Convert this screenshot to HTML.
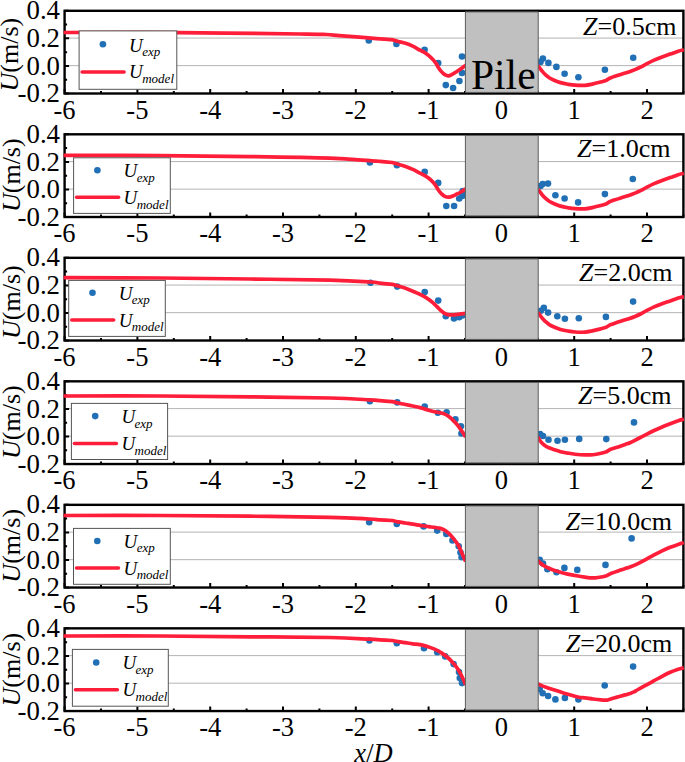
<!DOCTYPE html>
<html><head><meta charset="utf-8"><style>
html,body{margin:0;padding:0;background:#fff;overflow:hidden;}
svg{display:block;}
text{font-family:"Liberation Serif",serif;}
</style></head><body>
<svg width="685" height="762" viewBox="0 0 685 762">
<rect width="685" height="762" fill="#fff"/>
<g><line x1="64.6" y1="38.07" x2="683.4" y2="38.07" stroke="#b4b4b4" stroke-width="1"/>
<line x1="64.6" y1="65.63" x2="683.4" y2="65.63" stroke="#b4b4b4" stroke-width="1"/>
<circle cx="368.8" cy="40.4" r="3.3" fill="#2170b6"/>
<circle cx="396.4" cy="44.0" r="3.3" fill="#2170b6"/>
<circle cx="424.6" cy="49.8" r="3.3" fill="#2170b6"/>
<circle cx="438.2" cy="63.0" r="3.3" fill="#2170b6"/>
<circle cx="445.8" cy="85.1" r="3.3" fill="#2170b6"/>
<circle cx="453.1" cy="88.0" r="3.3" fill="#2170b6"/>
<circle cx="459.4" cy="81.0" r="3.3" fill="#2170b6"/>
<circle cx="462.0" cy="72.9" r="3.3" fill="#2170b6"/>
<circle cx="462.0" cy="56.5" r="3.3" fill="#2170b6"/>
<circle cx="540.5" cy="61.9" r="3.3" fill="#2170b6"/>
<circle cx="542.9" cy="58.6" r="3.3" fill="#2170b6"/>
<circle cx="548.4" cy="62.9" r="3.3" fill="#2170b6"/>
<circle cx="556.4" cy="66.9" r="3.3" fill="#2170b6"/>
<circle cx="564.6" cy="73.8" r="3.3" fill="#2170b6"/>
<circle cx="578.4" cy="77.3" r="3.3" fill="#2170b6"/>
<circle cx="604.9" cy="69.7" r="3.3" fill="#2170b6"/>
<circle cx="633.2" cy="57.7" r="3.3" fill="#2170b6"/>
<rect x="64.6" y="10.80" width="618.8" height="82.70" fill="none" stroke="#000" stroke-width="2.4"/>
<path d="M64.60,93.50v-4.5 M101.00,93.50v-2.5 M137.40,93.50v-4.5 M173.80,93.50v-2.5 M210.20,93.50v-4.5 M246.60,93.50v-2.5 M283.00,93.50v-4.5 M319.40,93.50v-2.5 M355.80,93.50v-4.5 M392.20,93.50v-2.5 M428.60,93.50v-4.5 M465.00,93.50v-2.5 M501.40,93.50v-4.5 M537.80,93.50v-2.5 M574.20,93.50v-4.5 M610.60,93.50v-2.5 M647.00,93.50v-4.5 M683.40,93.50v-2.5 M64.60,93.50h4.5 M64.60,79.72h2.5 M64.60,65.93h4.5 M64.60,52.15h2.5 M64.60,38.37h4.5 M64.60,24.58h2.5 M64.60,10.80h4.5" stroke="#000" stroke-width="2" fill="none"/>
<path d="M63.60,32.50 C82.50,32.52 137.60,32.35 177.00,32.60 C216.40,32.85 275.17,33.68 300.00,34.00 C324.83,34.32 319.43,34.23 326.00,34.50 C332.57,34.77 332.78,35.07 339.40,35.60 C346.02,36.13 358.93,37.15 365.70,37.70 C372.47,38.25 375.57,38.57 380.00,38.90 C384.43,39.23 390.25,39.57 392.30,39.70 C393.28,40.00 396.00,40.90 398.20,41.50 C400.40,42.10 403.07,42.52 405.50,43.30 C407.93,44.08 410.38,45.05 412.80,46.20 C415.22,47.35 418.07,49.17 420.00,50.20 C421.93,51.23 422.93,51.48 424.40,52.40 C425.87,53.32 427.35,54.48 428.80,55.70 C430.25,56.92 431.88,58.42 433.10,59.70 C434.32,60.98 435.25,62.15 436.10,63.40 C436.95,64.65 437.35,65.87 438.20,67.20 C439.05,68.53 440.10,70.15 441.20,71.40 C442.30,72.65 443.58,73.97 444.80,74.70 C446.02,75.43 447.28,75.87 448.50,75.80 C449.72,75.73 450.77,74.97 452.10,74.30 C453.43,73.63 455.03,72.72 456.50,71.80 C457.97,70.88 459.38,69.88 460.90,68.80 C462.42,67.72 464.82,65.88 465.60,65.30" fill="none" stroke="#ff1e3a" stroke-width="3.7" stroke-linejoin="round" stroke-linecap="butt"/>
<path d="M537.90,65.60 C538.27,66.08 539.37,67.53 540.10,68.50 C540.83,69.47 541.33,70.30 542.30,71.40 C543.27,72.50 544.68,74.00 545.90,75.10 C547.12,76.20 548.13,77.10 549.60,78.00 C551.07,78.90 552.88,79.73 554.70,80.50 C556.52,81.27 558.32,81.98 560.50,82.60 C562.68,83.22 565.37,83.77 567.80,84.20 C570.23,84.63 572.23,85.02 575.10,85.20 C577.97,85.38 582.13,85.48 585.00,85.30 C587.87,85.12 589.87,84.60 592.30,84.10 C594.73,83.60 597.28,82.92 599.60,82.30 C601.92,81.68 605.10,80.72 606.20,80.40 L609.8,78.2 C610.53,77.93 612.25,77.27 614.20,76.60 C616.15,75.93 619.07,74.98 621.50,74.20 C623.93,73.42 626.55,72.67 628.80,71.90 C631.05,71.13 632.97,70.43 635.00,69.60 C637.03,68.77 639.15,67.82 641.00,66.90 C642.85,65.98 643.92,65.23 646.10,64.10 C648.28,62.97 651.43,61.30 654.10,60.10 C656.77,58.90 659.42,57.90 662.10,56.90 C664.78,55.90 667.52,55.05 670.20,54.10 C672.88,53.15 675.93,51.92 678.20,51.20 C680.47,50.48 682.87,50.03 683.80,49.80" fill="none" stroke="#ff1e3a" stroke-width="3.7" stroke-linejoin="round" stroke-linecap="butt"/>
<rect x="465.4" y="11.9" width="72.8" height="80.5" fill="#c0c0c0" stroke="#5a5a5a" stroke-width="1"/>
<text x="60.0" y="19.4" font-size="26.8" text-anchor="end">0.4</text>
<text x="60.0" y="47.0" font-size="26.8" text-anchor="end">0.2</text>
<text x="60.0" y="74.5" font-size="26.8" text-anchor="end">0.0</text>
<text x="60.0" y="102.1" font-size="26.8" text-anchor="end">-0.2</text>
<text x="64.6" y="118.8" font-size="26.5" text-anchor="middle">-6</text>
<text x="137.4" y="118.8" font-size="26.5" text-anchor="middle">-5</text>
<text x="210.2" y="118.8" font-size="26.5" text-anchor="middle">-4</text>
<text x="283.0" y="118.8" font-size="26.5" text-anchor="middle">-3</text>
<text x="355.8" y="118.8" font-size="26.5" text-anchor="middle">-2</text>
<text x="428.6" y="118.8" font-size="26.5" text-anchor="middle">-1</text>
<text x="501.4" y="118.8" font-size="26.5" text-anchor="middle">0</text>
<text x="574.2" y="118.8" font-size="26.5" text-anchor="middle">1</text>
<text x="647.0" y="118.8" font-size="26.5" text-anchor="middle">2</text>
<rect x="79.1" y="30.9" width="97.7" height="58.4" fill="#fff" stroke="#555" stroke-width="1"/>
<circle cx="102.9" cy="44.2" r="3.3" fill="#2170b6"/>
<line x1="82.1" y1="72.0" x2="124.1" y2="72.0" stroke="#ff1e3a" stroke-width="3.5" stroke-linecap="round"/>
<text x="129.1" y="51.5" font-size="19" font-style="italic">U<tspan font-size="13" dx="-0.6" dy="4.8">exp</tspan></text>
<text x="129.1" y="78.4" font-size="19" font-style="italic">U<tspan font-size="13" dx="-0.6" dy="4.8">model</tspan></text>
<text x="583.1" y="34.8" font-size="26"><tspan font-style="italic">Z</tspan>=0.5cm</text>
<text transform="translate(17.6,54.6) rotate(-90)" font-size="26" text-anchor="middle"><tspan font-style="italic">U</tspan>(m/s)</text></g>
<g><line x1="64.6" y1="161.58" x2="683.4" y2="161.58" stroke="#b4b4b4" stroke-width="1"/>
<line x1="64.6" y1="189.14" x2="683.4" y2="189.14" stroke="#b4b4b4" stroke-width="1"/>
<circle cx="369.9" cy="162.4" r="3.3" fill="#2170b6"/>
<circle cx="396.9" cy="165.2" r="3.3" fill="#2170b6"/>
<circle cx="424.7" cy="171.9" r="3.3" fill="#2170b6"/>
<circle cx="438.2" cy="182.9" r="3.3" fill="#2170b6"/>
<circle cx="446.3" cy="206" r="3.3" fill="#2170b6"/>
<circle cx="454.1" cy="206" r="3.3" fill="#2170b6"/>
<circle cx="459.2" cy="198.5" r="3.3" fill="#2170b6"/>
<circle cx="462.3" cy="195.9" r="3.3" fill="#2170b6"/>
<circle cx="462.7" cy="191.1" r="3.3" fill="#2170b6"/>
<circle cx="540.5" cy="186" r="3.3" fill="#2170b6"/>
<circle cx="542.7" cy="184.1" r="3.3" fill="#2170b6"/>
<circle cx="548" cy="183.6" r="3.3" fill="#2170b6"/>
<circle cx="555.4" cy="195.3" r="3.3" fill="#2170b6"/>
<circle cx="564.6" cy="198.5" r="3.3" fill="#2170b6"/>
<circle cx="578.1" cy="202.4" r="3.3" fill="#2170b6"/>
<circle cx="604.9" cy="194.1" r="3.3" fill="#2170b6"/>
<circle cx="632.8" cy="179" r="3.3" fill="#2170b6"/>
<rect x="64.6" y="134.31" width="618.8" height="82.70" fill="none" stroke="#000" stroke-width="2.4"/>
<path d="M64.60,217.01v-4.5 M101.00,217.01v-2.5 M137.40,217.01v-4.5 M173.80,217.01v-2.5 M210.20,217.01v-4.5 M246.60,217.01v-2.5 M283.00,217.01v-4.5 M319.40,217.01v-2.5 M355.80,217.01v-4.5 M392.20,217.01v-2.5 M428.60,217.01v-4.5 M465.00,217.01v-2.5 M501.40,217.01v-4.5 M537.80,217.01v-2.5 M574.20,217.01v-4.5 M610.60,217.01v-2.5 M647.00,217.01v-4.5 M683.40,217.01v-2.5 M64.60,217.01h4.5 M64.60,203.23h2.5 M64.60,189.44h4.5 M64.60,175.66h2.5 M64.60,161.88h4.5 M64.60,148.09h2.5 M64.60,134.31h4.5" stroke="#000" stroke-width="2" fill="none"/>
<path d="M63.60,155.30 C79.67,155.35 128.93,155.38 160.00,155.60 C191.07,155.82 221.67,156.17 250.00,156.60 C278.33,157.03 310.02,157.52 330.00,158.20 C349.98,158.88 361.57,160.17 369.90,160.70 C378.23,161.23 376.27,161.10 380.00,161.40 C383.73,161.70 390.25,162.32 392.30,162.50 C393.28,162.80 396.00,163.63 398.20,164.30 C400.40,164.97 403.07,165.65 405.50,166.50 C407.93,167.35 410.37,168.28 412.80,169.40 C415.23,170.52 418.17,172.20 420.10,173.20 C422.03,174.20 422.95,174.55 424.40,175.40 C425.85,176.25 427.35,177.15 428.80,178.30 C430.25,179.45 431.88,180.98 433.10,182.30 C434.32,183.62 435.25,184.95 436.10,186.20 C436.95,187.45 437.35,188.58 438.20,189.80 C439.05,191.02 440.10,192.40 441.20,193.50 C442.30,194.60 443.47,195.80 444.80,196.40 C446.13,197.00 447.87,197.17 449.20,197.10 C450.53,197.03 451.58,196.48 452.80,196.00 C454.02,195.52 455.15,194.87 456.50,194.20 C457.85,193.53 459.38,192.90 460.90,192.00 C462.42,191.10 464.82,189.33 465.60,188.80" fill="none" stroke="#ff1e3a" stroke-width="3.7" stroke-linejoin="round" stroke-linecap="butt"/>
<path d="M537.90,189.11 C538.27,189.59 539.37,191.04 540.10,192.01 C540.83,192.98 541.33,193.81 542.30,194.91 C543.27,196.01 544.68,197.51 545.90,198.61 C547.12,199.71 548.13,200.61 549.60,201.51 C551.07,202.41 552.88,203.24 554.70,204.01 C556.52,204.78 558.32,205.49 560.50,206.11 C562.68,206.73 565.37,207.28 567.80,207.71 C570.23,208.14 572.23,208.53 575.10,208.71 C577.97,208.89 582.13,208.99 585.00,208.81 C587.87,208.63 589.87,208.11 592.30,207.61 C594.73,207.11 597.28,206.43 599.60,205.81 C601.92,205.19 605.10,204.23 606.20,203.91 L609.8,201.7 C610.53,201.44 612.25,200.78 614.20,200.11 C616.15,199.44 619.07,198.49 621.50,197.71 C623.93,196.93 626.55,196.18 628.80,195.41 C631.05,194.64 632.97,193.94 635.00,193.11 C637.03,192.28 639.15,191.33 641.00,190.41 C642.85,189.49 643.92,188.74 646.10,187.61 C648.28,186.48 651.43,184.81 654.10,183.61 C656.77,182.41 659.42,181.41 662.10,180.41 C664.78,179.41 667.52,178.56 670.20,177.61 C672.88,176.66 675.93,175.43 678.20,174.71 C680.47,173.99 682.87,173.54 683.80,173.31" fill="none" stroke="#ff1e3a" stroke-width="3.7" stroke-linejoin="round" stroke-linecap="butt"/>
<rect x="465.4" y="135.4" width="72.8" height="80.5" fill="#c0c0c0" stroke="#5a5a5a" stroke-width="1"/>
<text x="60.0" y="142.9" font-size="26.8" text-anchor="end">0.4</text>
<text x="60.0" y="170.5" font-size="26.8" text-anchor="end">0.2</text>
<text x="60.0" y="198.0" font-size="26.8" text-anchor="end">0.0</text>
<text x="60.0" y="225.6" font-size="26.8" text-anchor="end">-0.2</text>
<text x="64.6" y="242.3" font-size="26.5" text-anchor="middle">-6</text>
<text x="137.4" y="242.3" font-size="26.5" text-anchor="middle">-5</text>
<text x="210.2" y="242.3" font-size="26.5" text-anchor="middle">-4</text>
<text x="283.0" y="242.3" font-size="26.5" text-anchor="middle">-3</text>
<text x="355.8" y="242.3" font-size="26.5" text-anchor="middle">-2</text>
<text x="428.6" y="242.3" font-size="26.5" text-anchor="middle">-1</text>
<text x="501.4" y="242.3" font-size="26.5" text-anchor="middle">0</text>
<text x="574.2" y="242.3" font-size="26.5" text-anchor="middle">1</text>
<text x="647.0" y="242.3" font-size="26.5" text-anchor="middle">2</text>
<rect x="73.6" y="157.8" width="96.7" height="55.6" fill="#fff" stroke="#555" stroke-width="1"/>
<circle cx="97.4" cy="170.2" r="3.3" fill="#2170b6"/>
<line x1="76.6" y1="197.3" x2="118.6" y2="197.3" stroke="#ff1e3a" stroke-width="3.5" stroke-linecap="round"/>
<text x="123.6" y="176.8" font-size="19" font-style="italic">U<tspan font-size="13" dx="-0.6" dy="4.8">exp</tspan></text>
<text x="123.6" y="203.7" font-size="19" font-style="italic">U<tspan font-size="13" dx="-0.6" dy="4.8">model</tspan></text>
<text x="577.0" y="156.9" font-size="26"><tspan font-style="italic">Z</tspan>=1.0cm</text>
<text transform="translate(20.4,175.2) rotate(-90)" font-size="26" text-anchor="middle"><tspan font-style="italic">U</tspan>(m/s)</text></g>
<g><line x1="64.6" y1="285.09" x2="683.4" y2="285.09" stroke="#b4b4b4" stroke-width="1"/>
<line x1="64.6" y1="312.65" x2="683.4" y2="312.65" stroke="#b4b4b4" stroke-width="1"/>
<circle cx="370.5" cy="282.7" r="3.3" fill="#2170b6"/>
<circle cx="397.2" cy="286.6" r="3.3" fill="#2170b6"/>
<circle cx="424.7" cy="292.1" r="3.3" fill="#2170b6"/>
<circle cx="438.2" cy="300.6" r="3.3" fill="#2170b6"/>
<circle cx="445.8" cy="316.3" r="3.3" fill="#2170b6"/>
<circle cx="454" cy="318.5" r="3.3" fill="#2170b6"/>
<circle cx="459.2" cy="317.2" r="3.3" fill="#2170b6"/>
<circle cx="462.3" cy="315.5" r="3.3" fill="#2170b6"/>
<circle cx="540.8" cy="310.8" r="3.3" fill="#2170b6"/>
<circle cx="543.8" cy="307.9" r="3.3" fill="#2170b6"/>
<circle cx="548.1" cy="312.6" r="3.3" fill="#2170b6"/>
<circle cx="557.3" cy="316.2" r="3.3" fill="#2170b6"/>
<circle cx="564.9" cy="318.8" r="3.3" fill="#2170b6"/>
<circle cx="578.8" cy="318.3" r="3.3" fill="#2170b6"/>
<circle cx="605.9" cy="316.9" r="3.3" fill="#2170b6"/>
<circle cx="633.1" cy="301.6" r="3.3" fill="#2170b6"/>
<rect x="64.6" y="257.82" width="618.8" height="82.70" fill="none" stroke="#000" stroke-width="2.4"/>
<path d="M64.60,340.52v-4.5 M101.00,340.52v-2.5 M137.40,340.52v-4.5 M173.80,340.52v-2.5 M210.20,340.52v-4.5 M246.60,340.52v-2.5 M283.00,340.52v-4.5 M319.40,340.52v-2.5 M355.80,340.52v-4.5 M392.20,340.52v-2.5 M428.60,340.52v-4.5 M465.00,340.52v-2.5 M501.40,340.52v-4.5 M537.80,340.52v-2.5 M574.20,340.52v-4.5 M610.60,340.52v-2.5 M647.00,340.52v-4.5 M683.40,340.52v-2.5 M64.60,340.52h4.5 M64.60,326.74h2.5 M64.60,312.95h4.5 M64.60,299.17h2.5 M64.60,285.39h4.5 M64.60,271.60h2.5 M64.60,257.82h4.5" stroke="#000" stroke-width="2" fill="none"/>
<path d="M63.60,277.60 C79.67,277.67 128.93,277.77 160.00,278.00 C191.07,278.23 221.67,278.63 250.00,279.00 C278.33,279.37 309.92,279.70 330.00,280.20 C350.08,280.70 362.17,281.50 370.50,282.00 C378.83,282.50 376.37,282.82 380.00,283.20 C383.63,283.58 390.25,284.12 392.30,284.30 C393.28,284.60 396.00,285.43 398.20,286.10 C400.40,286.77 403.07,287.45 405.50,288.30 C407.93,289.15 410.38,290.20 412.80,291.20 C415.22,292.20 418.07,293.38 420.00,294.30 C421.93,295.22 422.93,295.83 424.40,296.70 C425.87,297.57 427.35,298.48 428.80,299.50 C430.25,300.52 431.77,301.65 433.10,302.80 C434.43,303.95 435.58,305.17 436.80,306.40 C438.02,307.63 439.18,309.08 440.40,310.20 C441.62,311.32 442.88,312.37 444.10,313.10 C445.32,313.83 446.25,314.30 447.70,314.60 C449.15,314.90 451.08,314.95 452.80,314.90 C454.52,314.85 455.87,314.55 458.00,314.30 C460.13,314.05 464.33,313.55 465.60,313.40" fill="none" stroke="#ff1e3a" stroke-width="3.7" stroke-linejoin="round" stroke-linecap="butt"/>
<path d="M537.90,312.42 C538.27,312.90 539.37,314.35 540.10,315.32 C540.83,316.29 541.33,317.12 542.30,318.22 C543.27,319.32 544.68,320.82 545.90,321.92 C547.12,323.02 548.13,323.92 549.60,324.82 C551.07,325.72 552.88,326.55 554.70,327.32 C556.52,328.09 558.32,328.80 560.50,329.42 C562.68,330.04 565.37,330.59 567.80,331.02 C570.23,331.45 572.23,331.84 575.10,332.02 C577.97,332.20 582.13,332.30 585.00,332.12 C587.87,331.94 589.87,331.42 592.30,330.92 C594.73,330.42 597.28,329.74 599.60,329.12 C601.92,328.50 605.10,327.54 606.20,327.22 L609.8,325.0 C610.53,324.75 612.25,324.09 614.20,323.42 C616.15,322.75 619.07,321.80 621.50,321.02 C623.93,320.24 626.55,319.49 628.80,318.72 C631.05,317.95 632.97,317.25 635.00,316.42 C637.03,315.59 639.15,314.64 641.00,313.72 C642.85,312.80 643.92,312.05 646.10,310.92 C648.28,309.79 651.43,308.12 654.10,306.92 C656.77,305.72 659.42,304.72 662.10,303.72 C664.78,302.72 667.52,301.87 670.20,300.92 C672.88,299.97 675.93,298.74 678.20,298.02 C680.47,297.30 682.87,296.85 683.80,296.62" fill="none" stroke="#ff1e3a" stroke-width="3.7" stroke-linejoin="round" stroke-linecap="butt"/>
<rect x="465.4" y="258.9" width="72.8" height="80.5" fill="#c0c0c0" stroke="#5a5a5a" stroke-width="1"/>
<text x="60.0" y="266.4" font-size="26.8" text-anchor="end">0.4</text>
<text x="60.0" y="294.0" font-size="26.8" text-anchor="end">0.2</text>
<text x="60.0" y="321.6" font-size="26.8" text-anchor="end">0.0</text>
<text x="60.0" y="349.1" font-size="26.8" text-anchor="end">-0.2</text>
<text x="64.6" y="365.8" font-size="26.5" text-anchor="middle">-6</text>
<text x="137.4" y="365.8" font-size="26.5" text-anchor="middle">-5</text>
<text x="210.2" y="365.8" font-size="26.5" text-anchor="middle">-4</text>
<text x="283.0" y="365.8" font-size="26.5" text-anchor="middle">-3</text>
<text x="355.8" y="365.8" font-size="26.5" text-anchor="middle">-2</text>
<text x="428.6" y="365.8" font-size="26.5" text-anchor="middle">-1</text>
<text x="501.4" y="365.8" font-size="26.5" text-anchor="middle">0</text>
<text x="574.2" y="365.8" font-size="26.5" text-anchor="middle">1</text>
<text x="647.0" y="365.8" font-size="26.5" text-anchor="middle">2</text>
<rect x="68.7" y="280.4" width="96.6" height="56.0" fill="#fff" stroke="#555" stroke-width="1"/>
<circle cx="92.5" cy="292.8" r="3.3" fill="#2170b6"/>
<line x1="71.7" y1="320.1" x2="113.7" y2="320.1" stroke="#ff1e3a" stroke-width="3.5" stroke-linecap="round"/>
<text x="118.7" y="299.6" font-size="19" font-style="italic">U<tspan font-size="13" dx="-0.6" dy="4.8">exp</tspan></text>
<text x="118.7" y="326.5" font-size="19" font-style="italic">U<tspan font-size="13" dx="-0.6" dy="4.8">model</tspan></text>
<text x="579.0" y="280.8" font-size="26"><tspan font-style="italic">Z</tspan>=2.0cm</text>
<text transform="translate(20.4,302.1) rotate(-90)" font-size="26" text-anchor="middle"><tspan font-style="italic">U</tspan>(m/s)</text></g>
<g><line x1="64.6" y1="408.60" x2="683.4" y2="408.60" stroke="#b4b4b4" stroke-width="1"/>
<line x1="64.6" y1="436.16" x2="683.4" y2="436.16" stroke="#b4b4b4" stroke-width="1"/>
<circle cx="369.9" cy="401.2" r="3.3" fill="#2170b6"/>
<circle cx="397.2" cy="402.4" r="3.3" fill="#2170b6"/>
<circle cx="424.7" cy="406.6" r="3.3" fill="#2170b6"/>
<circle cx="437.9" cy="412.8" r="3.3" fill="#2170b6"/>
<circle cx="446.6" cy="412.4" r="3.3" fill="#2170b6"/>
<circle cx="455.4" cy="419.3" r="3.3" fill="#2170b6"/>
<circle cx="460.9" cy="426.3" r="3.3" fill="#2170b6"/>
<circle cx="461.4" cy="433.5" r="3.3" fill="#2170b6"/>
<circle cx="540.1" cy="434.1" r="3.3" fill="#2170b6"/>
<circle cx="543" cy="436" r="3.3" fill="#2170b6"/>
<circle cx="548.5" cy="439.8" r="3.3" fill="#2170b6"/>
<circle cx="557.5" cy="440.7" r="3.3" fill="#2170b6"/>
<circle cx="564.9" cy="439.8" r="3.3" fill="#2170b6"/>
<circle cx="579.2" cy="438.9" r="3.3" fill="#2170b6"/>
<circle cx="606.3" cy="439.1" r="3.3" fill="#2170b6"/>
<circle cx="634" cy="422.4" r="3.3" fill="#2170b6"/>
<rect x="64.6" y="381.33" width="618.8" height="82.70" fill="none" stroke="#000" stroke-width="2.4"/>
<path d="M64.60,464.03v-4.5 M101.00,464.03v-2.5 M137.40,464.03v-4.5 M173.80,464.03v-2.5 M210.20,464.03v-4.5 M246.60,464.03v-2.5 M283.00,464.03v-4.5 M319.40,464.03v-2.5 M355.80,464.03v-4.5 M392.20,464.03v-2.5 M428.60,464.03v-4.5 M465.00,464.03v-2.5 M501.40,464.03v-4.5 M537.80,464.03v-2.5 M574.20,464.03v-4.5 M610.60,464.03v-2.5 M647.00,464.03v-4.5 M683.40,464.03v-2.5 M64.60,464.03h4.5 M64.60,450.25h2.5 M64.60,436.46h4.5 M64.60,422.68h2.5 M64.60,408.90h4.5 M64.60,395.11h2.5 M64.60,381.33h4.5" stroke="#000" stroke-width="2" fill="none"/>
<path d="M63.60,396.00 C79.67,396.00 128.93,395.87 160.00,396.00 C191.07,396.13 221.67,396.47 250.00,396.80 C278.33,397.13 310.02,397.48 330.00,398.00 C349.98,398.52 361.57,399.45 369.90,399.90 C378.23,400.35 376.27,400.42 380.00,400.70 C383.73,400.98 390.25,401.45 392.30,401.60 C393.28,401.83 396.00,402.52 398.20,403.00 C400.40,403.48 403.07,404.00 405.50,404.50 C407.93,405.00 410.38,405.48 412.80,406.00 C415.22,406.52 418.07,407.12 420.00,407.60 C421.93,408.08 422.93,408.47 424.40,408.90 C425.87,409.33 427.10,409.73 428.80,410.20 C430.50,410.67 432.67,411.27 434.60,411.70 C436.53,412.13 438.82,412.43 440.40,412.80 C441.98,413.17 442.88,413.42 444.10,413.90 C445.32,414.38 446.48,414.92 447.70,415.70 C448.92,416.48 450.18,417.50 451.40,418.60 C452.62,419.70 453.78,420.97 455.00,422.30 C456.22,423.63 457.60,425.20 458.70,426.60 C459.80,428.00 460.45,428.97 461.60,430.70 C462.75,432.43 464.93,435.95 465.60,437.00" fill="none" stroke="#ff1e3a" stroke-width="3.7" stroke-linejoin="round" stroke-linecap="butt"/>
<path d="M537.90,436.93 C538.27,437.56 539.37,439.66 540.10,440.73 C540.83,441.80 541.33,442.41 542.30,443.33 C543.27,444.25 544.68,445.45 545.90,446.23 C547.12,447.01 548.13,447.43 549.60,448.03 C551.07,448.63 552.88,449.21 554.70,449.83 C556.52,450.45 558.32,451.18 560.50,451.73 C562.68,452.28 565.37,452.71 567.80,453.13 C570.23,453.55 572.23,453.93 575.10,454.23 C577.97,454.53 582.02,454.85 585.00,454.93 C587.98,455.01 590.32,455.01 593.00,454.73 C595.68,454.45 598.82,453.75 601.10,453.23 C603.38,452.71 605.77,451.90 606.70,451.63 L610.7,449.2 C611.77,448.90 614.68,448.03 617.10,447.23 C619.52,446.43 623.05,445.18 625.20,444.43 C627.35,443.68 627.87,443.68 630.00,442.73 C632.13,441.78 635.32,440.10 638.00,438.73 C640.68,437.36 643.42,435.90 646.10,434.53 C648.78,433.16 651.43,431.80 654.10,430.53 C656.77,429.26 659.42,428.06 662.10,426.93 C664.78,425.80 667.52,424.75 670.20,423.73 C672.88,422.71 675.93,421.61 678.20,420.83 C680.47,420.05 682.87,419.33 683.80,419.03" fill="none" stroke="#ff1e3a" stroke-width="3.7" stroke-linejoin="round" stroke-linecap="butt"/>
<rect x="465.4" y="382.4" width="72.8" height="80.5" fill="#c0c0c0" stroke="#5a5a5a" stroke-width="1"/>
<text x="60.0" y="389.9" font-size="26.8" text-anchor="end">0.4</text>
<text x="60.0" y="417.5" font-size="26.8" text-anchor="end">0.2</text>
<text x="60.0" y="445.1" font-size="26.8" text-anchor="end">0.0</text>
<text x="60.0" y="472.6" font-size="26.8" text-anchor="end">-0.2</text>
<text x="64.6" y="489.3" font-size="26.5" text-anchor="middle">-6</text>
<text x="137.4" y="489.3" font-size="26.5" text-anchor="middle">-5</text>
<text x="210.2" y="489.3" font-size="26.5" text-anchor="middle">-4</text>
<text x="283.0" y="489.3" font-size="26.5" text-anchor="middle">-3</text>
<text x="355.8" y="489.3" font-size="26.5" text-anchor="middle">-2</text>
<text x="428.6" y="489.3" font-size="26.5" text-anchor="middle">-1</text>
<text x="501.4" y="489.3" font-size="26.5" text-anchor="middle">0</text>
<text x="574.2" y="489.3" font-size="26.5" text-anchor="middle">1</text>
<text x="647.0" y="489.3" font-size="26.5" text-anchor="middle">2</text>
<rect x="71.4" y="403.4" width="96.2" height="56.1" fill="#fff" stroke="#555" stroke-width="1"/>
<circle cx="95.2" cy="416.1" r="3.3" fill="#2170b6"/>
<line x1="74.4" y1="443.4" x2="116.4" y2="443.4" stroke="#ff1e3a" stroke-width="3.5" stroke-linecap="round"/>
<text x="121.4" y="422.9" font-size="19" font-style="italic">U<tspan font-size="13" dx="-0.6" dy="4.8">exp</tspan></text>
<text x="121.4" y="449.8" font-size="19" font-style="italic">U<tspan font-size="13" dx="-0.6" dy="4.8">model</tspan></text>
<text x="578.0" y="403.8" font-size="26"><tspan font-style="italic">Z</tspan>=5.0cm</text>
<text transform="translate(20.4,422.1) rotate(-90)" font-size="26" text-anchor="middle"><tspan font-style="italic">U</tspan>(m/s)</text></g>
<g><line x1="64.6" y1="532.11" x2="683.4" y2="532.11" stroke="#b4b4b4" stroke-width="1"/>
<line x1="64.6" y1="559.67" x2="683.4" y2="559.67" stroke="#b4b4b4" stroke-width="1"/>
<circle cx="369.2" cy="522.2" r="3.3" fill="#2170b6"/>
<circle cx="396.8" cy="524.0" r="3.3" fill="#2170b6"/>
<circle cx="423.6" cy="526.4" r="3.3" fill="#2170b6"/>
<circle cx="437.2" cy="530.6" r="3.3" fill="#2170b6"/>
<circle cx="446.3" cy="533.9" r="3.3" fill="#2170b6"/>
<circle cx="452.5" cy="540.4" r="3.3" fill="#2170b6"/>
<circle cx="458.7" cy="546.3" r="3.3" fill="#2170b6"/>
<circle cx="460.5" cy="552.5" r="3.3" fill="#2170b6"/>
<circle cx="461.6" cy="557.2" r="3.3" fill="#2170b6"/>
<circle cx="539.7" cy="559.9" r="3.3" fill="#2170b6"/>
<circle cx="543" cy="563.5" r="3.3" fill="#2170b6"/>
<circle cx="547.4" cy="569.3" r="3.3" fill="#2170b6"/>
<circle cx="556.5" cy="572.3" r="3.3" fill="#2170b6"/>
<circle cx="564.4" cy="567.9" r="3.3" fill="#2170b6"/>
<circle cx="577.3" cy="569.9" r="3.3" fill="#2170b6"/>
<circle cx="605.5" cy="564.9" r="3.3" fill="#2170b6"/>
<circle cx="631.6" cy="538.4" r="3.3" fill="#2170b6"/>
<rect x="64.6" y="504.84" width="618.8" height="82.70" fill="none" stroke="#000" stroke-width="2.4"/>
<path d="M64.60,587.54v-4.5 M101.00,587.54v-2.5 M137.40,587.54v-4.5 M173.80,587.54v-2.5 M210.20,587.54v-4.5 M246.60,587.54v-2.5 M283.00,587.54v-4.5 M319.40,587.54v-2.5 M355.80,587.54v-4.5 M392.20,587.54v-2.5 M428.60,587.54v-4.5 M465.00,587.54v-2.5 M501.40,587.54v-4.5 M537.80,587.54v-2.5 M574.20,587.54v-4.5 M610.60,587.54v-2.5 M647.00,587.54v-4.5 M683.40,587.54v-2.5 M64.60,587.54h4.5 M64.60,573.76h2.5 M64.60,559.97h4.5 M64.60,546.19h2.5 M64.60,532.41h4.5 M64.60,518.62h2.5 M64.60,504.84h4.5" stroke="#000" stroke-width="2" fill="none"/>
<path d="M63.60,515.50 C79.67,515.50 128.93,515.38 160.00,515.50 C191.07,515.62 221.67,515.90 250.00,516.20 C278.33,516.50 310.13,516.83 330.00,517.30 C349.87,517.77 360.87,518.58 369.20,519.00 C377.53,519.42 376.15,519.55 380.00,519.80 C383.85,520.05 390.25,520.38 392.30,520.50 C393.28,520.73 396.00,521.48 398.20,521.90 C400.40,522.32 403.07,522.63 405.50,523.00 C407.93,523.37 410.38,523.70 412.80,524.10 C415.22,524.50 418.07,525.08 420.00,525.40 C421.93,525.72 422.93,525.78 424.40,526.00 C425.87,526.22 427.10,526.47 428.80,526.70 C430.50,526.93 432.67,527.12 434.60,527.40 C436.53,527.68 438.82,527.98 440.40,528.40 C441.98,528.82 442.88,529.23 444.10,529.90 C445.32,530.57 446.60,531.50 447.70,532.40 C448.80,533.30 449.60,534.08 450.70,535.30 C451.80,536.52 453.08,538.12 454.30,539.70 C455.52,541.28 456.90,542.97 458.00,544.80 C459.10,546.63 460.05,548.87 460.90,550.70 C461.75,552.53 462.32,554.00 463.10,555.80 C463.88,557.60 465.18,560.55 465.60,561.50" fill="none" stroke="#ff1e3a" stroke-width="3.7" stroke-linejoin="round" stroke-linecap="butt"/>
<path d="M537.90,560.40 C538.38,560.92 539.82,562.62 540.80,563.50 C541.78,564.38 542.58,564.97 543.80,565.70 C545.02,566.43 546.53,567.17 548.10,567.90 C549.67,568.63 551.13,569.37 553.20,570.10 C555.27,570.83 558.07,571.63 560.50,572.30 C562.93,572.97 565.37,573.57 567.80,574.10 C570.23,574.63 572.23,574.98 575.10,575.50 C577.97,576.02 582.55,576.82 585.00,577.20 C587.45,577.58 588.07,577.70 589.80,577.80 C591.53,577.90 593.52,577.93 595.40,577.80 C597.28,577.67 599.22,577.35 601.10,577.00 C602.98,576.65 605.77,575.92 606.70,575.70 L610.7,573.6 C611.77,573.22 614.68,572.15 617.10,571.30 C619.52,570.45 623.05,569.20 625.20,568.50 C627.35,567.80 627.87,567.90 630.00,567.10 C632.13,566.30 635.32,565.00 638.00,563.70 C640.68,562.40 643.42,560.77 646.10,559.30 C648.78,557.83 651.43,556.30 654.10,554.90 C656.77,553.50 659.42,552.17 662.10,550.90 C664.78,549.63 667.52,548.37 670.20,547.30 C672.88,546.23 675.93,545.28 678.20,544.50 C680.47,543.72 682.87,542.92 683.80,542.60" fill="none" stroke="#ff1e3a" stroke-width="3.7" stroke-linejoin="round" stroke-linecap="butt"/>
<rect x="465.4" y="505.9" width="72.8" height="80.5" fill="#c0c0c0" stroke="#5a5a5a" stroke-width="1"/>
<text x="60.0" y="513.4" font-size="26.8" text-anchor="end">0.4</text>
<text x="60.0" y="541.0" font-size="26.8" text-anchor="end">0.2</text>
<text x="60.0" y="568.6" font-size="26.8" text-anchor="end">0.0</text>
<text x="60.0" y="596.1" font-size="26.8" text-anchor="end">-0.2</text>
<text x="64.6" y="612.8" font-size="26.5" text-anchor="middle">-6</text>
<text x="137.4" y="612.8" font-size="26.5" text-anchor="middle">-5</text>
<text x="210.2" y="612.8" font-size="26.5" text-anchor="middle">-4</text>
<text x="283.0" y="612.8" font-size="26.5" text-anchor="middle">-3</text>
<text x="355.8" y="612.8" font-size="26.5" text-anchor="middle">-2</text>
<text x="428.6" y="612.8" font-size="26.5" text-anchor="middle">-1</text>
<text x="501.4" y="612.8" font-size="26.5" text-anchor="middle">0</text>
<text x="574.2" y="612.8" font-size="26.5" text-anchor="middle">1</text>
<text x="647.0" y="612.8" font-size="26.5" text-anchor="middle">2</text>
<rect x="73.5" y="528.4" width="96.8" height="55.9" fill="#fff" stroke="#555" stroke-width="1"/>
<circle cx="97.3" cy="541.0" r="3.3" fill="#2170b6"/>
<line x1="76.5" y1="568.1" x2="118.5" y2="568.1" stroke="#ff1e3a" stroke-width="3.5" stroke-linecap="round"/>
<text x="123.5" y="547.6" font-size="19" font-style="italic">U<tspan font-size="13" dx="-0.6" dy="4.8">exp</tspan></text>
<text x="123.5" y="574.5" font-size="19" font-style="italic">U<tspan font-size="13" dx="-0.6" dy="4.8">model</tspan></text>
<text x="565.6" y="530.2" font-size="26"><tspan font-style="italic">Z</tspan>=10.0cm</text>
<text transform="translate(20.4,545.8) rotate(-90)" font-size="26" text-anchor="middle"><tspan font-style="italic">U</tspan>(m/s)</text></g>
<g><line x1="64.6" y1="655.62" x2="683.4" y2="655.62" stroke="#b4b4b4" stroke-width="1"/>
<line x1="64.6" y1="683.18" x2="683.4" y2="683.18" stroke="#b4b4b4" stroke-width="1"/>
<circle cx="369.4" cy="640.5" r="3.3" fill="#2170b6"/>
<circle cx="396.8" cy="643.3" r="3.3" fill="#2170b6"/>
<circle cx="424" cy="648.2" r="3.3" fill="#2170b6"/>
<circle cx="437.2" cy="652.2" r="3.3" fill="#2170b6"/>
<circle cx="445.2" cy="656.4" r="3.3" fill="#2170b6"/>
<circle cx="453.6" cy="664.1" r="3.3" fill="#2170b6"/>
<circle cx="459" cy="672.1" r="3.3" fill="#2170b6"/>
<circle cx="459.8" cy="678" r="3.3" fill="#2170b6"/>
<circle cx="462" cy="683.1" r="3.3" fill="#2170b6"/>
<circle cx="539.7" cy="689.2" r="3.3" fill="#2170b6"/>
<circle cx="542.7" cy="693.2" r="3.3" fill="#2170b6"/>
<circle cx="548.1" cy="696" r="3.3" fill="#2170b6"/>
<circle cx="555.4" cy="699.4" r="3.3" fill="#2170b6"/>
<circle cx="564.9" cy="697.9" r="3.3" fill="#2170b6"/>
<circle cx="578.4" cy="699.4" r="3.3" fill="#2170b6"/>
<circle cx="604.7" cy="685.5" r="3.3" fill="#2170b6"/>
<circle cx="633.1" cy="666.6" r="3.3" fill="#2170b6"/>
<rect x="64.6" y="628.35" width="618.8" height="82.70" fill="none" stroke="#000" stroke-width="2.4"/>
<path d="M64.60,711.05v-4.5 M101.00,711.05v-2.5 M137.40,711.05v-4.5 M173.80,711.05v-2.5 M210.20,711.05v-4.5 M246.60,711.05v-2.5 M283.00,711.05v-4.5 M319.40,711.05v-2.5 M355.80,711.05v-4.5 M392.20,711.05v-2.5 M428.60,711.05v-4.5 M465.00,711.05v-2.5 M501.40,711.05v-4.5 M537.80,711.05v-2.5 M574.20,711.05v-4.5 M610.60,711.05v-2.5 M647.00,711.05v-4.5 M683.40,711.05v-2.5 M64.60,711.05h4.5 M64.60,697.27h2.5 M64.60,683.48h4.5 M64.60,669.70h2.5 M64.60,655.92h4.5 M64.60,642.13h2.5 M64.60,628.35h4.5" stroke="#000" stroke-width="2" fill="none"/>
<path d="M63.60,636.00 C79.67,636.00 128.93,635.87 160.00,636.00 C191.07,636.13 221.67,636.55 250.00,636.80 C278.33,637.05 310.10,637.10 330.00,637.50 C349.90,637.90 361.07,638.82 369.40,639.20 C377.73,639.58 376.18,639.58 380.00,639.80 C383.82,640.02 390.25,640.38 392.30,640.50 C393.28,640.68 396.00,641.23 398.20,641.60 C400.40,641.97 403.07,642.33 405.50,642.70 C407.93,643.07 410.38,643.48 412.80,643.80 C415.22,644.12 417.58,644.17 420.00,644.60 C422.42,645.03 424.87,645.65 427.30,646.40 C429.73,647.15 432.17,647.98 434.60,649.10 C437.03,650.22 439.72,651.70 441.90,653.10 C444.08,654.50 445.88,655.92 447.70,657.50 C449.52,659.08 451.08,660.65 452.80,662.60 C454.52,664.55 456.53,667.00 458.00,669.20 C459.47,671.40 460.33,673.20 461.60,675.80 C462.87,678.40 464.93,683.30 465.60,684.80" fill="none" stroke="#ff1e3a" stroke-width="3.7" stroke-linejoin="round" stroke-linecap="butt"/>
<path d="M537.90,683.80 C538.63,684.15 540.35,685.13 542.30,685.90 C544.25,686.67 547.17,687.58 549.60,688.40 C552.03,689.22 554.47,690.00 556.90,690.80 C559.33,691.60 561.77,692.47 564.20,693.20 C566.63,693.93 569.07,694.53 571.50,695.20 C573.93,695.87 576.55,696.77 578.80,697.20 C581.05,697.63 582.63,697.50 585.00,697.80 C587.37,698.10 590.32,698.65 593.00,699.00 C595.68,699.35 598.82,699.70 601.10,699.90 C603.38,700.10 605.77,700.15 606.70,700.20 C607.50,699.95 609.77,699.22 611.50,698.70 C613.23,698.18 614.82,697.73 617.10,697.10 C619.38,696.47 623.05,695.52 625.20,694.90 C627.35,694.28 629.20,693.65 630.00,693.40 C630.67,693.15 632.67,692.55 634.00,691.90 C635.33,691.25 635.98,690.63 638.00,689.50 C640.02,688.37 643.42,686.57 646.10,685.10 C648.78,683.63 651.43,682.17 654.10,680.70 C656.77,679.23 659.42,677.70 662.10,676.30 C664.78,674.90 667.52,673.47 670.20,672.30 C672.88,671.13 675.93,670.07 678.20,669.30 C680.47,668.53 682.87,667.97 683.80,667.70" fill="none" stroke="#ff1e3a" stroke-width="3.7" stroke-linejoin="round" stroke-linecap="butt"/>
<rect x="465.4" y="629.5" width="72.8" height="80.5" fill="#c0c0c0" stroke="#5a5a5a" stroke-width="1"/>
<text x="60.0" y="637.0" font-size="26.8" text-anchor="end">0.4</text>
<text x="60.0" y="664.5" font-size="26.8" text-anchor="end">0.2</text>
<text x="60.0" y="692.1" font-size="26.8" text-anchor="end">0.0</text>
<text x="60.0" y="719.7" font-size="26.8" text-anchor="end">-0.2</text>
<text x="64.6" y="736.4" font-size="26.5" text-anchor="middle">-6</text>
<text x="137.4" y="736.4" font-size="26.5" text-anchor="middle">-5</text>
<text x="210.2" y="736.4" font-size="26.5" text-anchor="middle">-4</text>
<text x="283.0" y="736.4" font-size="26.5" text-anchor="middle">-3</text>
<text x="355.8" y="736.4" font-size="26.5" text-anchor="middle">-2</text>
<text x="428.6" y="736.4" font-size="26.5" text-anchor="middle">-1</text>
<text x="501.4" y="736.4" font-size="26.5" text-anchor="middle">0</text>
<text x="574.2" y="736.4" font-size="26.5" text-anchor="middle">1</text>
<text x="647.0" y="736.4" font-size="26.5" text-anchor="middle">2</text>
<rect x="72.4" y="649.4" width="95.9" height="56.8" fill="#fff" stroke="#555" stroke-width="1"/>
<circle cx="96.2" cy="662.5" r="3.3" fill="#2170b6"/>
<line x1="75.4" y1="689.7" x2="117.4" y2="689.7" stroke="#ff1e3a" stroke-width="3.5" stroke-linecap="round"/>
<text x="122.4" y="669.2" font-size="19" font-style="italic">U<tspan font-size="13" dx="-0.6" dy="4.8">exp</tspan></text>
<text x="122.4" y="696.1" font-size="19" font-style="italic">U<tspan font-size="13" dx="-0.6" dy="4.8">model</tspan></text>
<text x="565.8" y="652.1" font-size="26"><tspan font-style="italic">Z</tspan>=20.0cm</text>
<text transform="translate(20.4,669.6) rotate(-90)" font-size="26" text-anchor="middle"><tspan font-style="italic">U</tspan>(m/s)</text></g>
<text x="471" y="88.7" font-size="41.5">Pile</text>
<text x="373.5" y="762" font-size="26.5" text-anchor="middle" font-style="italic">x<tspan font-style="normal">/</tspan>D</text>
</svg></body></html>
